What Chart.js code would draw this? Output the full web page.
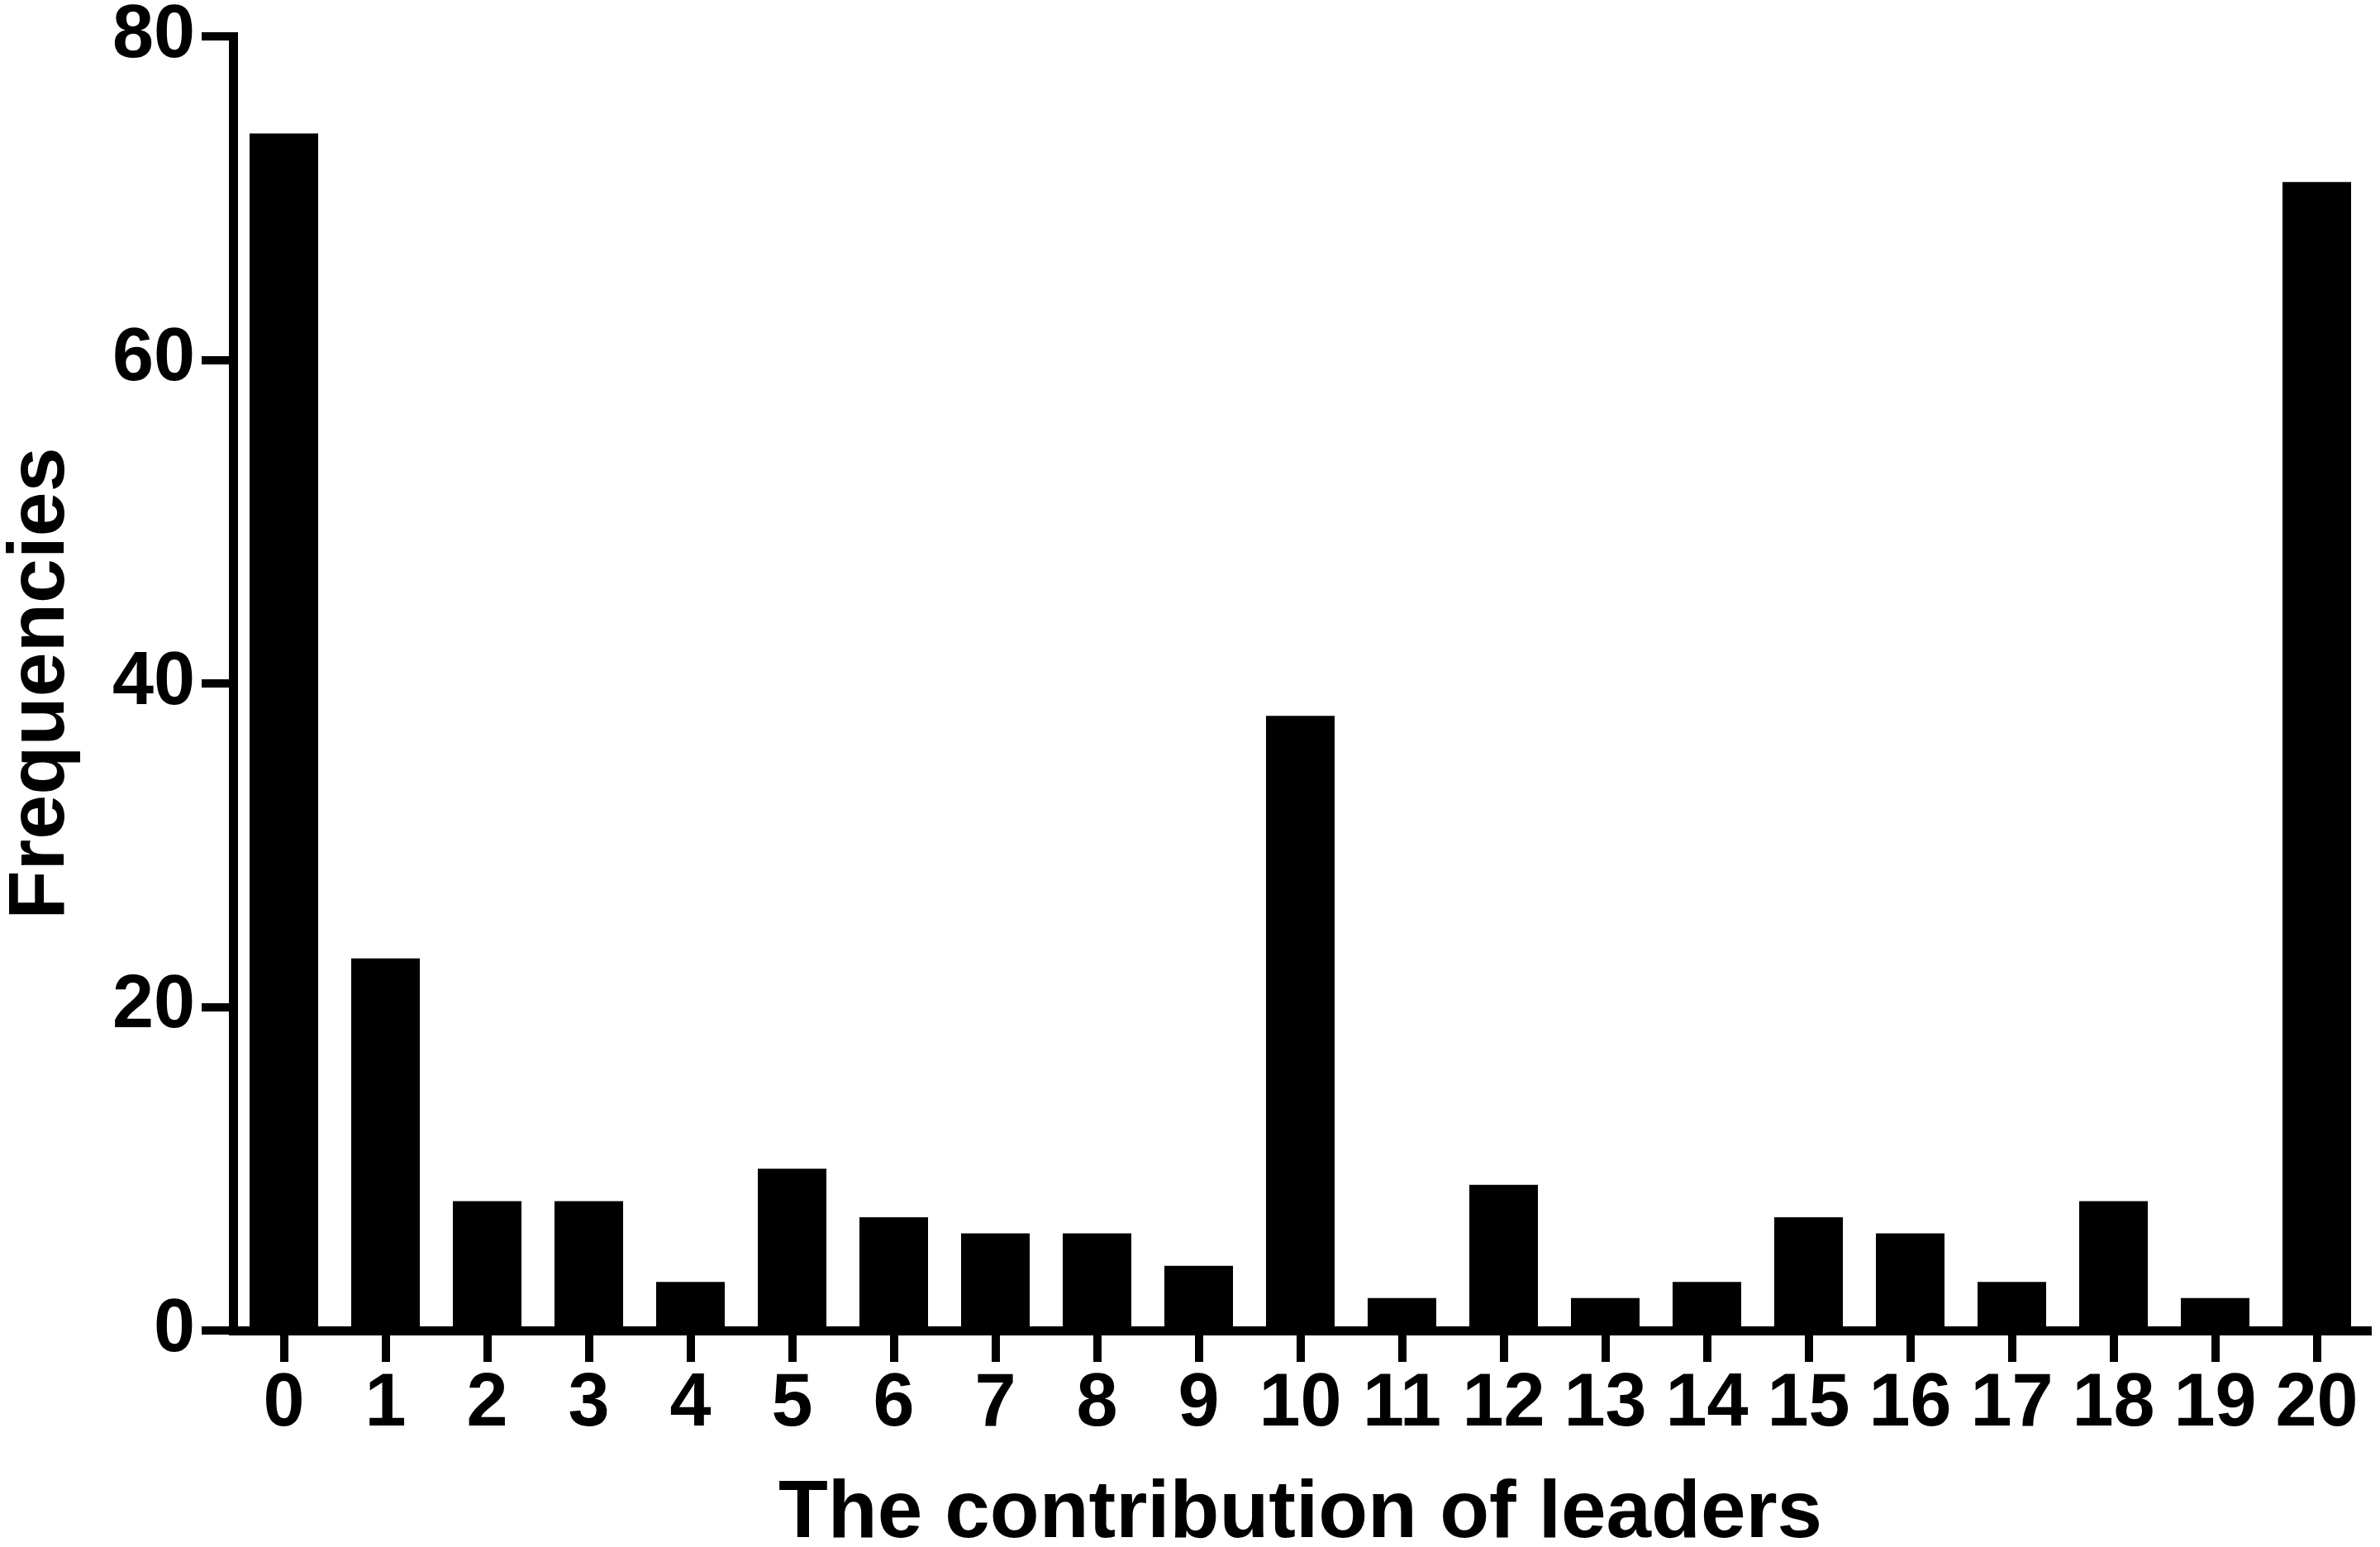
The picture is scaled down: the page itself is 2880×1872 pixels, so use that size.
<!DOCTYPE html>
<html>
<head>
<meta charset="utf-8">
<style>
  html, body { margin: 0; padding: 0; background: #ffffff; }
  #wrap { width: 2880px; height: 1872px; }
</style>
<script src="https://cdn.jsdelivr.net/npm/chart.js@4"></script>
</head>
<body>
<div id="wrap"><canvas id="c" width="2880" height="1872"></canvas></div>
<script>
const categories = ['0','1','2','3','4','5','6','7','8','9','10','11','12','13','14','15','16','17','18','19','20'];
const frequencies = [74, 23, 8, 8, 3, 10, 7, 6, 6, 4, 38, 2, 9, 2, 3, 7, 6, 3, 8, 2, 71];
const yTicks = [0, 20, 40, 60, 80];
const xTitle = 'The contribution of leaders';
const yTitle = 'Frequencies';

const FONT = "'Liberation Sans', Arial, sans-serif";

new Chart(document.getElementById('c'), {
  type: 'bar',
  data: {
    labels: categories,
    datasets: [{
      data: frequencies,
      backgroundColor: '#000000',
      borderWidth: 0,
      barPercentage: 0.675,
      categoryPercentage: 1.0
    }]
  },
  options: {
    responsive: false,
    devicePixelRatio: 1,
    animation: false,
    layout: { padding: { top: 40, right: 15, left: 0, bottom: 0 } },
    plugins: { legend: { display: false }, tooltip: { enabled: false } },
    scales: {
      x: {
        type: 'category',
        offset: true,
        grid: {
          offset: false,
          drawOnChartArea: false,
          drawTicks: true,
          tickLength: 38,
          lineWidth: 10,
          color: '#000000'
        },
        border: { display: true, width: 11, color: '#000000' },
        ticks: {
          color: '#000000',
          padding: 7,
          maxRotation: 0,
          autoSkip: false,
          font: { family: FONT, size: 90, weight: 'bold', lineHeight: 1 }
        },
        title: {
          display: true,
          text: xTitle,
          color: '#000000',
          padding: { top: 0, bottom: 0 },
          font: { family: FONT, size: 98, weight: 'bold', lineHeight: 0.8 }
        },
        afterFit: (scale) => { scale.height = 262; }
      },
      y: {
        min: 0,
        max: 80,
        afterBuildTicks: (scale) => { scale.ticks = yTicks.map(v => ({ value: v })); },
        grid: {
          drawOnChartArea: false,
          drawTicks: true,
          tickLength: 38,
          lineWidth: 10,
          color: '#000000'
        },
        border: { display: true, width: 11, color: '#000000' },
        ticks: {
          color: '#000000',
          padding: 8,
          font: { family: FONT, size: 90, weight: 'bold', lineHeight: 0.8 }
        },
        title: {
          display: true,
          text: yTitle,
          color: '#000000',
          padding: { top: 11, bottom: 0 },
          font: { family: FONT, size: 97, weight: 'bold', lineHeight: 0.8 }
        },
        afterFit: (scale) => { scale.width = 282; }
      }
    }
  }
});
</script>
</body>
</html>
